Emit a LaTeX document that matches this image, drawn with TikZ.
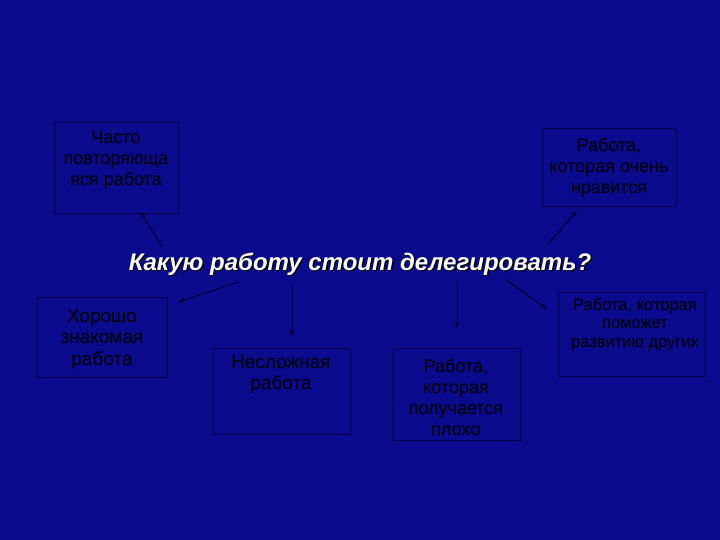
\documentclass[tikz,border=0pt]{standalone}
\usepackage{fontspec}
\setmainfont{Liberation Sans}
\usetikzlibrary{arrows.meta}
\definecolor{bg}{RGB}{10,10,140}
\definecolor{boxline}{RGB}{0,0,70}
\definecolor{arr}{RGB}{0,0,50}
\tikzset{
  box/.style={draw=boxline, line width=0.8pt, rectangle, inner sep=0pt},
  txt/.style={anchor=north, inner sep=0pt, align=center, text=black, font=\fontsize{18}{21}\selectfont},
  bigtxt/.style={anchor=north, inner sep=0pt, align=center, text=black, font=\fontsize{19}{21.5}\selectfont},
  smalltxt/.style={anchor=north, inner sep=0pt, align=center, text=black, font=\fontsize{16.5}{18.5}\selectfont},
  conn/.style={draw=arr, line width=1pt, -{Stealth[length=6pt,width=5pt]}},
  ttl/.style={font=\fontsize{24}{28}\selectfont\bfseries\itshape},
}
\begin{document}
\begin{tikzpicture}[x=1pt,y=-1pt]
\fill[bg] (0,0) rectangle (720,540);
\useasboundingbox (0,0) rectangle (720,540);

% boxes
\node[box, minimum width=124pt, minimum height=91pt] (b1) at (116,167.5) {};
\node[txt] (t1) at (116,131) {Часто\\повторяюща\\яся работа};

\node[box, minimum width=134pt, minimum height=78pt] (b2) at (609,167) {};
\node[txt] (t2) at (609,138) {Работа,\\которая очень\\нравится};

\node[box, minimum width=130pt, minimum height=80pt] (b3) at (102,337) {};
\node[bigtxt] (t3) at (102,309) {Хорошо\\знакомая\\работа};

\node[box, minimum width=137pt, minimum height=86pt] (b4) at (281.5,391) {};
\node[bigtxt] (t4) at (281,355) {Несложная\\работа};

\node[box, minimum width=127pt, minimum height=92pt] (b5) at (456.5,394) {};
\node[txt] (t5) at (456,359) {Работа,\\которая\\получается\\плохо};

\node[box, minimum width=147pt, minimum height=84pt] (b6) at (631.5,334) {};
\node[smalltxt] (t6) at (635,298) {Работа, которая\\поможет\\развитию других};

% title
\node[text=black, ttl] (tsh) at (361.5,265.5) {Какую работу стоит делегировать?};
\node[text=white, ttl] (title) at (360,264) {Какую работу стоит делегировать?};

% connector ends
\coordinate (s1) at (162,247);
\coordinate (e1) at (141,212);
\coordinate (s2) at (548,244);
\coordinate (e2) at (577,211);
\coordinate (s3) at (239,282);
\coordinate (e3) at (179,302);
\coordinate (s4) at (292,287);
\coordinate (e4) at (292,336);
\coordinate (s5) at (457,282);
\coordinate (e5) at (457,328);
\coordinate (s6) at (505,279);
\coordinate (e6) at (547,309);

\draw[conn] (s1) -- (e1);
\draw[conn] (s2) -- (e2);
\draw[conn] (s3) -- (e3);
\draw[conn] (s4) -- (e4);
\draw[conn] (s5) -- (e5);
\draw[conn] (s6) -- (e6);
\end{tikzpicture}
\end{document}
